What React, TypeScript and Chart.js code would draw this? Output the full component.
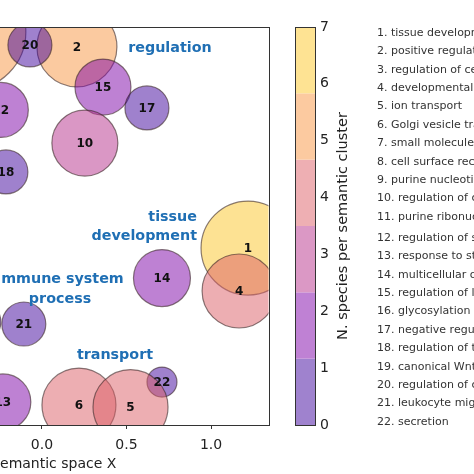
import React, { useEffect, useRef } from "react";
import { Chart, registerables } from "chart.js";

Chart.register(...registerables);

// ---- data ----
const termIds = ["7", "2", "20", "12", "15", "17", "10", "18", "1", "4", "14", "19", "21", "22", "6", "5", "13"];
const termX = [-0.438, 0.207, -0.071, -0.243, 0.361, 0.621, 0.254, -0.213, 1.219, 1.166, 0.71, -0.367, -0.107, 0.71, 0.219, 0.524, -0.231];
const termY = [1.17, 1.08, 1.092, 0.7, 0.838, 0.712, 0.5, 0.326, -0.133, -0.392, -0.314, -0.579, -0.591, -0.941, -1.08, -1.092, -1.061];
const termSize = [58, 40, 22, 27.5, 28, 22, 33, 22, 47, 37, 28.5, 21, 22, 15, 37, 37.5, 28];
const speciesCount = [5, 5, 1, 2, 2, 1, 3, 1, 7, 4, 2, 1, 1, 1, 4, 4, 2];

const clusterNames = ["regulation", "tissue\ndevelopment", "immune system\nprocess", "transport"];
const clusterX = [0.757, 0.917, 0.107, 0.432];
const clusterY = [1.074, -0.006, -0.383, -0.778];
const clusterAlign = ["center", "right", "center", "center"];

const colorbarTicks = [0, 1, 2, 3, 4, 5, 6, 7];
const colorbarMax = 7;
const binColors = ["#3f049c", "#7e03a8", "#b6308b", "#dc5e66", "#f89541", "#fcc627"];

const xTicksStep = 0.5;

const legendTerms = [
  "1. tissue development",
  "2. positive regulation of biological process",
  "3. regulation of cellular process",
  "4. developmental process",
  "5. ion transport",
  "6. Golgi vesicle transport",
  "7. small molecule metabolic process",
  "8. cell surface receptor signaling pathway",
  "9. purine nucleotide metabolic process",
  "10. regulation of cell communication",
  "11. purine ribonucleotide metabolic process",
  "12. regulation of signaling",
  "13. response to stimulus",
  "14. multicellular organismal process",
  "15. regulation of localization",
  "16. glycosylation",
  "17. negative regulation of biological process",
  "18. regulation of transport",
  "19. canonical Wnt signaling pathway",
  "20. regulation of cell adhesion",
  "21. leukocyte migration",
  "22. secretion",
];

// ---- helpers ----
const ALPHA = 0.5;
function hexToRgb(h: string) {
  const n = parseInt(h.slice(1), 16);
  return [(n >> 16) & 255, (n >> 8) & 255, n & 255];
}
function binIndex(n: number) {
  return Math.min(binColors.length - 1, Math.floor((n / colorbarMax) * binColors.length));
}
function fillFor(n: number) {
  const [r, g, b] = hexToRgb(binColors[binIndex(n)]);
  return `rgba(${r},${g},${b},${ALPHA})`;
}
function solidFor(i: number) {
  const [r, g, b] = hexToRgb(binColors[i]);
  const m = (c: number) => Math.round(c * ALPHA + 255 * (1 - ALPHA));
  return `rgb(${m(r)},${m(g)},${m(b)})`;
}

const OFFSET = 180;
const W = OFFSET + 474;
const H = 474;
const FONT = '"DejaVu Sans", sans-serif';

const overlay = {
  id: "overlay",
  afterDatasetsDraw(chart: any) {
    const ctx = chart.ctx;
    const ca = chart.chartArea;
    const meta = chart.getDatasetMeta(0);
    const xs = chart.scales.x;
    const ys = chart.scales.y;
    ctx.save();
    ctx.beginPath();
    ctx.rect(ca.left, ca.top, ca.right - ca.left, ca.bottom - ca.top);
    ctx.clip();
    ctx.font = `bold 12px ${FONT}`;
    ctx.fillStyle = "#111";
    ctx.textAlign = "center";
    ctx.textBaseline = "middle";
    meta.data.forEach((el: any, i: number) => {
      ctx.fillText(termIds[i], el.x, el.y + 1);
    });
    ctx.font = `bold 14.3px ${FONT}`;
    ctx.fillStyle = "#1f6fb4";
    clusterNames.forEach((name, i) => {
      const lines = name.split("\n");
      const px = xs.getPixelForValue(clusterX[i]);
      const py = ys.getPixelForValue(clusterY[i]);
      const lh = 19.5;
      ctx.textAlign = clusterAlign[i];
      lines.forEach((ln, j) => {
        ctx.fillText(ln, px, py + (j - (lines.length - 1) / 2) * lh);
      });
    });
    ctx.restore();
    ctx.save();
    ctx.strokeStyle = "#333";
    ctx.lineWidth = 1;
    ctx.strokeRect(Math.round(ca.left) + 0.5, Math.round(ca.top) + 0.5, Math.round(ca.right - ca.left), Math.round(ca.bottom - ca.top));
    ctx.restore();
  },
  afterDraw(chart: any) {
    const ctx = chart.ctx;
    const ca = chart.chartArea;
    // colorbar
    const left = Math.round(ca.right) + 26;
    const width = 20;
    const top = Math.round(ca.top);
    const bottom = Math.round(ca.bottom);
    const vy = (v: number) => bottom - (v / colorbarMax) * (bottom - top);
    ctx.save();
    binColors.forEach((_, i) => {
      const v0 = (i * colorbarMax) / binColors.length;
      const v1 = ((i + 1) * colorbarMax) / binColors.length;
      ctx.fillStyle = solidFor(i);
      ctx.fillRect(left, vy(v1), width, vy(v0) - vy(v1));
    });
    ctx.strokeStyle = "#333";
    ctx.lineWidth = 1;
    ctx.strokeRect(left + 0.5, top + 0.5, width, bottom - top);
    ctx.fillStyle = "#222";
    ctx.font = `14px ${FONT}`;
    ctx.textAlign = "left";
    ctx.textBaseline = "middle";
    colorbarTicks.forEach((t) => {
      ctx.fillText(String(t), left + width + 5, vy(t));
    });
    ctx.save();
    ctx.translate(left + width + 28, (top + bottom) / 2);
    ctx.rotate(-Math.PI / 2);
    ctx.textAlign = "center";
    ctx.font = `14.5px ${FONT}`;
    ctx.fillText("N. species per semantic cluster", 0, 0);
    ctx.restore();
    // term list
    ctx.font = `11px ${FONT}`;
    ctx.fillStyle = "#333";
    ctx.textAlign = "left";
    legendTerms.forEach((t, i) => {
      const y = 33 + i * 18.4 + (i >= 11 ? 2.6 : 0);
      ctx.fillText(t, OFFSET + 377, y);
    });
    ctx.restore();
  },
};

export default function App() {
  const ref = useRef<HTMLCanvasElement | null>(null);
  useEffect(() => {
    if (!ref.current) return;
    const chart = new Chart(ref.current, {
      type: "bubble",
      data: {
        datasets: [
          {
            data: termIds.map((_, i) => ({ x: termX[i], y: termY[i], r: termSize[i] })),
            backgroundColor: speciesCount.map(fillFor),
            borderColor: "rgba(60,40,40,0.6)",
            borderWidth: 1.2,
            hoverRadius: 0,
            clip: 0,
          } as any,
        ],
      },
      options: {
        animation: false,
        responsive: false,
        devicePixelRatio: 1,
        events: [],
        layout: { autoPadding: false, padding: { left: 19, right: 205.5, top: 27, bottom: 1 } },
        plugins: { legend: { display: false }, tooltip: { enabled: false } },
        scales: {
          x: {
            type: "linear",
            min: -1.2,
            max: 1.34,
            border: { display: false },
            grid: { drawOnChartArea: false, drawTicks: true, tickLength: 4, tickColor: "#333" },
            ticks: {
              stepSize: xTicksStep,
              includeBounds: false,
              padding: 8,
              color: "#222",
              font: { family: FONT, size: 14 },
              callback: (v: any) => {
                const n = Number(v);
                const s = Math.abs(n).toFixed(1);
                return n < -1e-9 ? "\u2212" + s : s;
              },
            },
            title: {
              display: true,
              text: "Semantic space X",
              color: "#222",
              font: { family: FONT, size: 14 },
              padding: { top: -5.6, bottom: 0 },
            },
          },
          y: { display: false, min: -1.2, max: 1.2 },
        },
      },
      plugins: [overlay],
    });
    return () => chart.destroy();
  }, []);
  return (
    <div style={{ position: "fixed", left: -OFFSET, top: 0, width: W, height: H, overflow: "hidden", background: "#fff" }}>
      <canvas ref={ref} width={W} height={H} style={{ display: "block", width: W, height: H }} />
    </div>
  );
}
